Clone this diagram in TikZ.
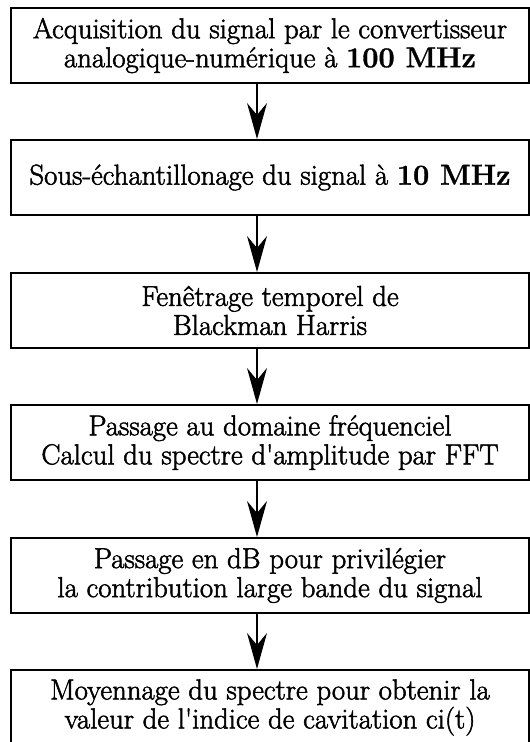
\documentclass[tikz,border=0pt]{standalone}
\usepackage{fontspec}
\setmainfont{Latin Modern Roman}[UprightFeatures={FakeBold=1.8}, BoldFeatures={FakeBold=1}]
\usepackage{tikz}
\usetikzlibrary{arrows.meta}
\tikzset{etape/.style={rectangle, draw, line width=2pt, align=center,
  minimum width=518pt, minimum height=75pt, inner sep=0pt,
  font=\fontsize{28.8}{29}\selectfont}}
\tikzset{fl/.style={draw, line width=1.3pt, -{Stealth[length=36pt, width=20pt, inset=12pt]}}}

\begin{document}
\begin{tikzpicture}[x=1pt,y=1pt]
        \useasboundingbox (0,0) rectangle (530,-742);
        \node (e1) at (270,-45.5) [etape] {Acquisition du signal par le convertisseur\\
          analogique-num\'erique \`a \textbf{100 MHz}};
        \node (e2) at (270,-177.5) [etape] {Sous-\'echantillonage du signal \`a \textbf{10 MHz}};
        \node (e3) at (270,-310.5) [etape] {Fen\^etrage temporel de\\ Blackman Harris};
        \node (e4) at (270,-442.5) [etape] {Passage au domaine fr\'equenciel\\
          Calcul du spectre d\textquotesingle amplitude par FFT};
        \node (e5) at (270,-575.5) [etape] {Passage en dB pour privil\'egier\\
          la contribution large bande du signal};
        \node (e6) at (270,-707.5) [etape] {Moyennage du spectre pour obtenir la\\
          valeur de l\textquotesingle indice de cavitation ci(t)};
        \foreach \a/\b in {e1/e2,e2/e3,e3/e4,e4/e5,e5/e6}
            \draw [fl] ([xshift=-13pt]\a.south) -- ([xshift=-13pt]\b.north);
    \end{tikzpicture}
\end{document}
